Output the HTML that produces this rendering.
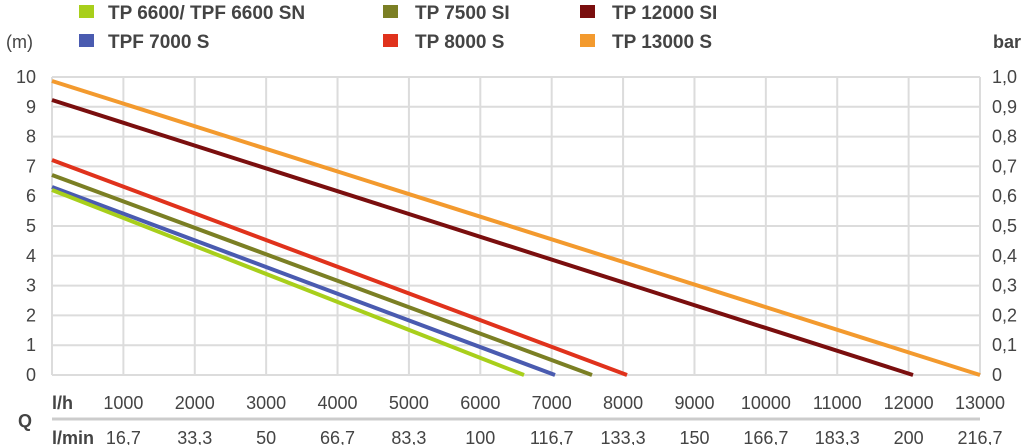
<!DOCTYPE html><html><head><style>body{margin:0;background:#fff}svg{display:block}text{font-family:"Liberation Sans",sans-serif;fill:#444}</style></head><body>
<svg width="1021" height="445" viewBox="0 0 1021 445">
<g font-size="19" font-weight="bold">
<rect x="79" y="5" width="15" height="13" fill="#a8cf1b"/><text x="108" y="19">TP 6600/ TPF 6600 SN</text>
<rect x="79" y="34" width="15" height="13" fill="#4a5bb0"/><text x="108" y="48">TPF 7000 S</text>
<rect x="383" y="5" width="15" height="13" fill="#7b7f24"/><text x="415" y="19">TP 7500 SI</text>
<rect x="383" y="34" width="15" height="13" fill="#e0321c"/><text x="415" y="48">TP 8000 S</text>
<rect x="580" y="5" width="15" height="13" fill="#7a0e0e"/><text x="612" y="19">TP 12000 SI</text>
<rect x="580" y="34" width="15" height="13" fill="#f39a2e"/><text x="612" y="48">TP 13000 S</text>
</g>
<text x="-3" y="48" font-size="18">l (m)</text>
<text x="993" y="48" font-size="18" font-weight="bold">bar</text>
<g stroke="#dcdcdc" stroke-width="2" id="g"></g>
<g id="lab" font-size="18"></g>
<line x1="52" y1="419" x2="980" y2="419" stroke="#ccc" stroke-width="3"/>
<text x="18" y="427" font-size="18" font-weight="bold">Q</text>
<text x="52" y="409" font-size="18" font-weight="bold">l/h</text>
<text x="52" y="444" font-size="18" font-weight="bold">l/min</text>
<g stroke-width="4" fill="none" stroke-linecap="butt">
<line x1="52" y1="81" x2="980" y2="375" stroke="#f39a2e"/>
<line x1="52" y1="100" x2="913" y2="375" stroke="#7a0e0e"/>
<line x1="52" y1="160" x2="627" y2="375" stroke="#e0321c"/>
<line x1="52" y1="175" x2="592" y2="375" stroke="#7b7f24"/>
<line x1="52" y1="187" x2="555" y2="375" stroke="#4a5bb0"/>
<line x1="52" y1="190" x2="524" y2="375" stroke="#a8cf1b"/>
</g>
</svg>
<script>
var ns="http://www.w3.org/2000/svg",g=document.getElementById("g"),L=document.getElementById("lab");
function el(p,t,a,tx){var e=document.createElementNS(ns,t);for(var k in a)e.setAttribute(k,a[k]);if(tx!=null)e.textContent=tx;p.appendChild(e);}
var x0=52,x1=980,y0=375,y1=77;
for(var i=0;i<=10;i++){var y=y0-(y0-y1)*i/10;el(g,"line",{x1:x0,x2:x1,y1:y,y2:y});
el(L,"text",{x:36,y:y+6,"text-anchor":"end"},String(i));
el(L,"text",{x:992,y:y+6},i==10?"1,0":(i==0?"0":"0,"+i));}
var lm=["16,7","33,3","50","66,7","83,3","100","116,7","133,3","150","166,7","183,3","200","216,7"];
for(var j=0;j<=13;j++){var x=x0+(x1-x0)*j/13;el(g,"line",{x1:x,x2:x,y1:y1,y2:y0});
if(j>0){el(L,"text",{x:x,y:409,"text-anchor":"middle"},String(j*1000));el(L,"text",{x:x,y:444,"text-anchor":"middle"},lm[j-1]);}}
</script>
</body></html>
